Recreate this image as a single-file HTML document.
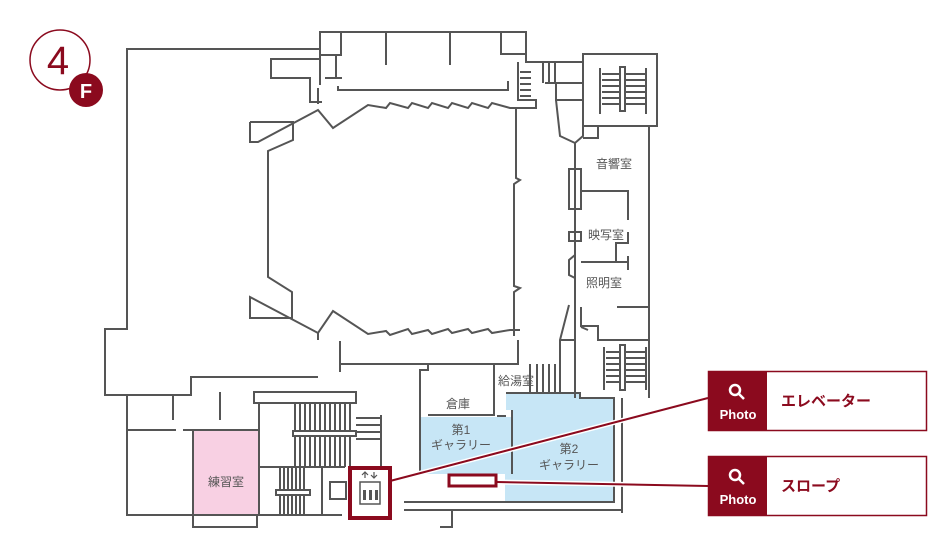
<!DOCTYPE html>
<html><head><meta charset="utf-8"><style>
html,body{margin:0;padding:0;background:#fff;width:928px;height:545px;overflow:hidden}
svg{display:block}
text{font-family:"Liberation Sans","Noto Sans CJK JP",sans-serif}
</style></head><body>
<svg width="928" height="545" viewBox="0 0 928 545" xmlns="http://www.w3.org/2000/svg">
<!-- colored rooms -->
<rect x="193" y="431" width="66" height="84" fill="#f8d0e3"/>
<rect x="419" y="417" width="93" height="57" fill="#c7e6f6"/>
<path d="M506 393 H580 V398 H614 V503 H505 V474 H512 V410 H506 Z" fill="#c7e6f6"/>

<g fill="none" stroke="#555" stroke-width="2">
<!-- outer left -->
<path d="M320 49 H127 V329 H105 V395 H191 V377 H318"/>
<!-- top -->
<path d="M320 32 H526 V62 H583"/>
<rect x="320" y="32" width="21" height="23"/>
<rect x="501" y="32" width="25" height="22"/>
<path d="M386 32 V65 M450 32 V65"/>
<path d="M320 55 V85 M336 55 V78 M325 78 H342"/>
<path d="M338 86 V90 H508 V81"/>
<path d="M320 59 H271 V78 H310 V102 H322 M318 88 V104"/>
<!-- right stair block -->
<rect x="583" y="54" width="74" height="72"/>
<!-- hall -->
<path d="M250 122 H293 V140 L268 151 V277 L292 292 V318 H250 V297 L318 333 L333 311 L368 334 L386 331 L390 335 L408 329 L412 334 L428 330 L432 334 L448 329 L452 333 L468 329 L472 333 L488 329 L492 333 L510 330 H520"/>
<path d="M250 122 V142 H258 L318 110 L333 128 L368 105 L386 108 L390 103 L408 108 L412 103 L428 108 L432 103 L448 108 L452 103 L468 108 L472 103 L488 108 L492 103 L510 108 H520"/>
<path d="M516 108 V178 L520 180 L514 184 V286 L520 288 L514 292 V336"/>
<path d="M318 333 V340 M340 341 V372 H340 M340 364 H518 V340"/>
<!-- left stair area -->
<path d="M516 108 H536 V100 H518 V62"/>
<path d="M520 72 H531 M520 78 H531 M520 84 H531 M520 90 H531 M520 96 H531"/>
<path d="M555 62 V83 M549 62 V83 M543 62 V83 M545 83 H583 M556 83 V100 H583"/>
<path d="M556 100 L560 136 L575 143 L583 136 V126 M583 138 H598 V126 M575 143 V398"/>
<rect x="569" y="169" width="12" height="40"/>
<path d="M581 191 H628 V220 M628 232 V243 H616 V262 M581 262 H628 M628 256 V270"/>
<rect x="569" y="232" width="12" height="9"/>
<path d="M575 255 L569 260 V275 L575 278 V301"/>
<path d="M569 305 L560 340 V365 M560 340 H575 M581 307 V326 H598 V340 H649 M617 307 H649 V289 M581 327 L588 330"/>
<path d="M649 126 V398 M575 365 V398"/>
<path d="M604 347 V390 M646 347 V390"/>
<rect x="620" y="345" width="5" height="45"/>
<path d="M606 352 H620 M606 358 H620 M606 364 H620 M606 370 H620 M606 376 H620 M606 382 H620 M625 352 H645 M625 358 H645 M625 364 H645 M625 370 H645 M625 376 H645 M625 382 H645"/>
<path d="M600 68 V114 M646 68 V114"/>
<rect x="620" y="67" width="5" height="44"/>
<path d="M602 74 H620 M602 80 H620 M602 86 H620 M602 92 H620 M602 98 H620 M602 104 H620 M625 74 H645 M625 80 H645 M625 86 H645 M625 92 H645 M625 98 H645 M625 104 H645"/>
<!-- galleries walls -->
<path d="M420 472 V370 H428 V364 M428 415 H494 V404 M494 364 V408"/>
<path d="M537 364 V392 M543 364 V392 M549 364 V392 M555 364 V392 M560 364 V392 M530 364 V392"/>
<path d="M506 393 H580 V398 H614 V503 M622 398 V513 M512 410 V474 M497 416 H506"/>
<path d="M404 502 H614 M404 510 H622 M452 510 V527 H440"/>
<!-- bottom left -->
<path d="M127 395 V515 H342 M127 430 H176 M183 430 H259 M173 395 V420 M220 392 V420"/>
<path d="M193 431 V527 H257 V515 M259 403 V515"/>
<rect x="254" y="392" width="102" height="11"/>
<path d="M295 403 V467 M300 403 V467 M305 403 V467 M310 403 V467 M315 403 V467 M320 403 V467 M325 403 V467 M330 403 V467 M335 403 V467 M340 403 V467 M345 403 V467 M350 403 V467"/>
<rect x="293" y="431" width="63" height="5" fill="#fff"/>
<path d="M259 467 H345 M280 467 V515 M284 467 V515 M288 467 V515 M292 467 V515 M296 467 V515 M300 467 V515 M304 467 V515 M322 467 V515"/>
<rect x="276" y="490" width="34" height="5" fill="#fff"/>
<path d="M356 418 H381 M356 425 H381 M356 432 H381 M356 439 H381 M381 415 V468"/>
<rect x="330" y="482" width="16" height="17"/>
</g>

<!-- connectors -->
<g stroke="#fff" stroke-width="5" fill="none"><path d="M390 481 L708 398 M497 482 L708 486"/></g>
<g stroke="#8b0a1e" stroke-width="2" fill="none"><path d="M390 481 L708 398 M497 482 L708 486"/></g>
<!-- elevator highlight -->
<rect x="350" y="468" width="40" height="50" fill="#fff" stroke="#8b0a1e" stroke-width="4"/>
<rect x="360" y="482" width="20" height="22" fill="none" stroke="#555" stroke-width="1.5"/>
<path d="M365 478 V472 M362 475 L365 472 L368 475 M374 472 V478 M371 475 L374 478 L377 475" stroke="#555" stroke-width="1.2" fill="none"/>
<g fill="#555"><rect x="363" y="490" width="3" height="10"/><rect x="369" y="490" width="3" height="10"/><rect x="375" y="490" width="3" height="10"/></g>
<rect x="449" y="475" width="47" height="11" fill="#fff" stroke="#8b0a1e" stroke-width="3"/>

<!-- 4F -->
<circle cx="60" cy="60" r="30" fill="#fff" stroke="#8b0a1e" stroke-width="1.5"/>
<text x="58" y="74" font-size="40" fill="#8b0a1e" text-anchor="middle">4</text>
<circle cx="86" cy="90" r="17" fill="#8b0a1e"/>
<text x="86" y="98" font-size="20" fill="#fff" text-anchor="middle" font-weight="bold">F</text>

<!-- labels -->
<g font-size="12" fill="#555" text-anchor="middle">
<text x="614" y="168">音響室</text>
<text x="606" y="239">映写室</text>
<text x="604" y="287">照明室</text>
<text x="516" y="385">給湯室</text>
<text x="458" y="408">倉庫</text>
<text x="461" y="434">第1</text>
<text x="461" y="449">ギャラリー</text>
<text x="569" y="453">第2</text>
<text x="569" y="469">ギャラリー</text>
<text x="226" y="486">練習室</text>
</g>

<!-- photo boxes -->
<rect x="708.5" y="371.5" width="218" height="59" fill="#fff" stroke="#8b0a1e" stroke-width="1.5"/>
<rect x="708" y="371" width="59" height="60" fill="#8b0a1e"/>
<rect x="708.5" y="456.5" width="218" height="59" fill="#fff" stroke="#8b0a1e" stroke-width="1.5"/>
<rect x="708" y="456" width="59" height="60" fill="#8b0a1e"/>
<g stroke="#fff" stroke-width="2.5" fill="none">
<circle cx="735" cy="390" r="5"/><path d="M739 394 L744 399"/>
<circle cx="735" cy="475" r="5"/><path d="M739 479 L744 484"/>
</g>
<g font-size="13" fill="#fff" font-weight="bold" text-anchor="middle">
<text x="738" y="419">Photo</text>
<text x="738" y="504">Photo</text>
</g>
<g font-size="15" fill="#8b0a1e" font-weight="bold">
<text x="781" y="406">エレベーター</text>
<text x="781" y="491">スロープ</text>
</g>
</svg>
</body></html>
